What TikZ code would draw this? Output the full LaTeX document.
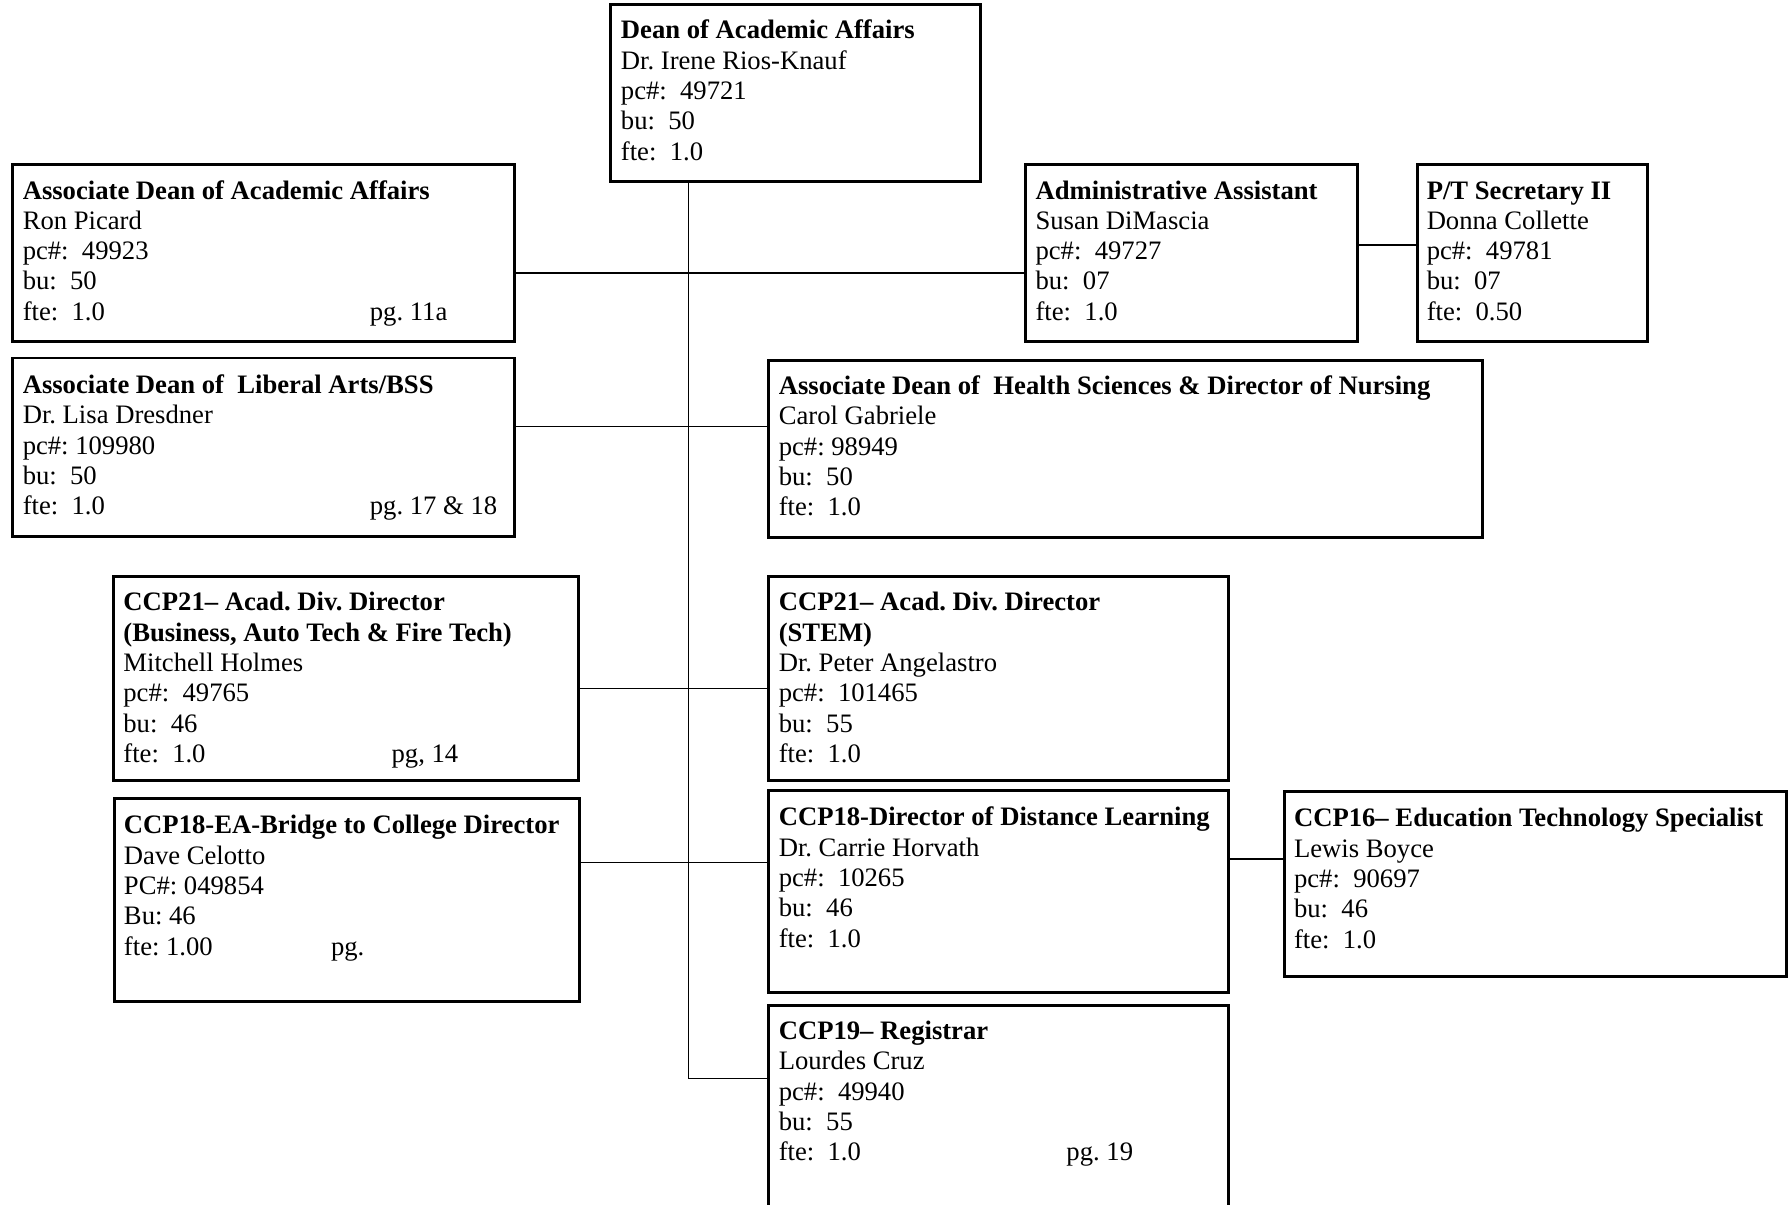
\documentclass[tikz,border=0pt]{standalone}
\usepackage{fontspec}
\setmainfont{Liberation Serif}
\usetikzlibrary{fit}
\frenchspacing
\newcommand\card[1]{\begin{tabular}[t]{@{}l@{}}#1\end{tabular}}
\newcommand\pgline[3]{\makebox[#1][l]{#2}#3}
\tikzset{
  box/.style={draw=black, line width=1.3pt, inner sep=0pt, fill=white},
  txt/.style={anchor=base west, inner sep=0pt, font=\frenchspacing\fontsize{11.65}{13.25}\selectfont},
  conn/.style={draw=black, line width=0.75pt}
}
\begin{document}
\begin{tikzpicture}[x=0.5pt, y=-0.5pt]
\useasboundingbox[fill=white] (0,0) rectangle (1565,1052.7);
% connector anchor coordinates
\coordinate (trunkTop) at (602,159);
\coordinate (trunkBot) at (602,943);
\coordinate (yA) at (0,239);
\coordinate (yB) at (0,214);
\coordinate (yC) at (0,373);
\coordinate (yD) at (0,602);
\coordinate (yE) at (0,754);
\coordinate (yF) at (0,751);
% boxes
\node[box, fit={(534,4) (857,159)}] (dean) {};
\node[box, fit={(11,144) (450,299)}] (aad) {};
\node[box, fit={(897,144) (1187,299)}] (admin) {};
\node[box, fit={(1239,144) (1440,299)}] (ptsec) {};
\node[box, fit={(11,313) (450,469)}] (lib) {};
\node[box, fit={(672,315) (1296,470)}] (health) {};
\node[box, fit={(99,504) (506,682)}] (divl) {};
\node[box, fit={(672,504) (1074,682)}] (stem) {};
\node[box, fit={(100,698) (507,876)}] (bridge) {};
\node[box, fit={(672,691) (1074,868)}] (dist) {};
\node[box, fit={(1123,692) (1562,854)}] (edtech) {};
\node[box, fit={(672,879) (1074,1070)}] (reg) {};
% connector lines
\draw[conn] (trunkTop) -- (trunkBot) -- (reg.west |- trunkBot);
\draw[conn] (aad.east |- yA) -- (admin.west |- yA);
\draw[conn] (admin.east |- yB) -- (ptsec.west |- yB);
\draw[conn] (lib.east |- yC) -- (health.west |- yC);
\draw[conn] (divl.east |- yD) -- (stem.west |- yD);
\draw[conn] (bridge.east |- yE) -- (dist.west |- yE);
\draw[conn] (dist.east |- yF) -- (edtech.west |- yF);
% texts
\node[txt] (deanT) at (542.5,34) {\card{\textbf{Dean of Academic Affairs}\\Dr. Irene Rios-Knauf\\pc\#:\ \ 49721\\bu:\ \ 50\\fte:\ \ 1.0}};
\node[txt] (aadT) at (19.5,174) {\card{\textbf{Associate Dean of Academic Affairs}\\Ron Picard\\pc\#:\ \ 49923\\bu:\ \ 50\\\pgline{151.75pt}{fte:\ \ 1.0}{pg. 11a}}};
\node[txt] (adminT) at (905,174) {\card{\textbf{Administrative Assistant}\\Susan DiMascia\\pc\#:\ \ 49727\\bu:\ \ 07\\fte:\ \ 1.0}};
\node[txt] (ptsecT) at (1247,174) {\card{\textbf{P/T Secretary II}\\Donna Collette\\pc\#:\ \ 49781\\bu:\ \ 07\\fte:\ \ 0.50}};
\node[txt] (libT) at (19.5,344) {\card{\textbf{Associate Dean of\ \ Liberal Arts/BSS}\\Dr. Lisa Dresdner\\pc\#:\ 109980\\bu:\ \ 50\\\pgline{151.75pt}{fte:\ \ 1.0}{pg. 17 \& 18}}};
\node[txt] (healthT) at (680.5,345) {\card{\textbf{Associate Dean of\ \ Health Sciences \& Director of Nursing}\\Carol Gabriele\\pc\#:\ 98949\\bu:\ \ 50\\fte:\ \ 1.0}};
\node[txt] (divlT) at (107.5,534) {\card{\textbf{CCP21-- Acad. Div. Director}\\\textbf{(Business, Auto Tech \& Fire Tech)}\\Mitchell Holmes\\pc\#:\ \ 49765\\bu:\ \ 46\\\pgline{117.25pt}{fte:\ \ 1.0}{pg, 14}}};
\node[txt] (stemT) at (680.5,534) {\card{\textbf{CCP21-- Acad. Div. Director}\\\textbf{(STEM)}\\Dr. Peter Angelastro\\pc\#:\ \ 101465\\bu:\ \ 55\\fte:\ \ 1.0}};
\node[txt] (bridgeT) at (108,729) {\card{\textbf{CCP18-EA-Bridge to College Director}\\Dave Celotto\\PC\#:\ 049854\\Bu:\ 46\\\pgline{90.5pt}{fte:\ 1.00}{pg.}}};
\node[txt] (distT) at (680.5,722) {\card{\textbf{CCP18-Director of Distance Learning}\\Dr. Carrie Horvath\\pc\#:\ \ 10265\\bu:\ \ 46\\fte:\ \ 1.0}};
\node[txt] (edtechT) at (1131,723) {\card{\textbf{CCP16-- Education Technology Specialist}\\Lewis Boyce\\pc\#:\ \ 90697\\bu:\ \ 46\\fte:\ \ 1.0}};
\node[txt] (regT) at (680.5,909) {\card{\textbf{CCP19-- Registrar}\\Lourdes Cruz\\pc\#:\ \ 49940\\bu:\ \ 55\\\pgline{125.75pt}{fte:\ \ 1.0}{pg. 19}}};
\end{tikzpicture}
\end{document}
